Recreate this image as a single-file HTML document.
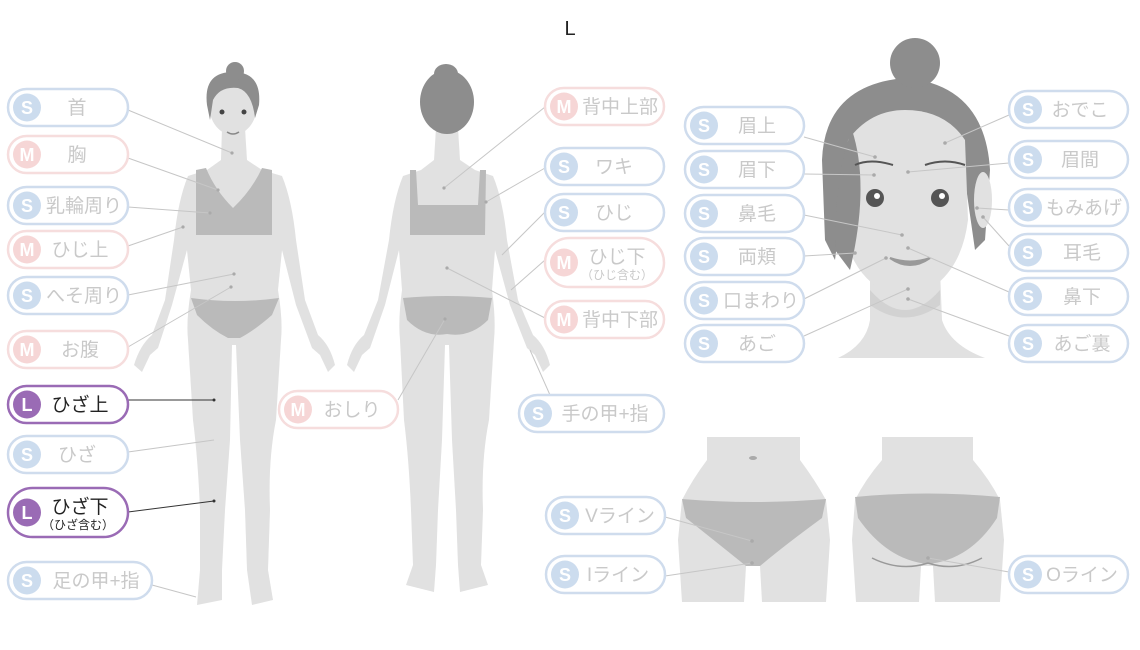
<!DOCTYPE html>
<html><head><meta charset="utf-8"><style>
html,body{margin:0;padding:0;background:#fff;}
svg{display:block;}
text{font-family:"Liberation Sans","Noto Sans CJK JP",sans-serif;}
</style></head><body>
<svg width="1140" height="650" viewBox="0 0 1140 650" xmlns="http://www.w3.org/2000/svg">
<defs>
<style>
.sk{fill:#e1e1e1}.cl{fill:#bababa}.hr{fill:#8d8d8d}
.ln{stroke:#c6c6c6;stroke-width:1;fill:none}
.lk{stroke:#333;stroke-width:1;fill:none}
.pb{fill:#fff;stroke:#cfdced;stroke-width:2.5}
.pm{fill:#fff;stroke:#f6dddd;stroke-width:2.5}
.pl{fill:#fff;stroke:#9a6bb5;stroke-width:2.5}
.cb{fill:#ccdcee}.cm{fill:#f6d6d6}.cL{fill:#9a6bb5}
.ic{fill:#fff;font-size:18px;font-weight:bold;text-anchor:middle}
.t{fill:#c9c9c9;font-size:19px;text-anchor:middle}
.tk{fill:#222;font-size:19px;text-anchor:middle}
</style>
</defs>
<text x="570" y="35" font-size="20" fill="#222" text-anchor="middle">L</text>

<!-- FRONT BODY -->
<path class="sk" d="M222 128 L245 128 L247 160 L262 170 L282 176 Q292 200 296 240 L305 300 L318 335 Q330 345 335 365 L328 372 L320 355 L312 348 L296 305 L282 250 L278 290 Q283 320 281 340 L276 420 Q268 460 270 510 L268 570 L273 600 L252 605 L247 570 L245 510 L240 440 L236 345 L232 345 L230 440 L225 510 L222 570 L222 600 L197 605 L200 570 L200 510 Q198 460 193 420 L188 340 Q186 320 191 290 L187 250 L172 305 L158 348 L150 355 L142 372 L134 365 Q140 345 152 335 L165 300 L174 240 Q178 200 188 176 L207 170 L221 160 Z"/>
<path class="cl" d="M196 170 L206 168 Q215 190 233 208 Q252 190 262 168 L272 170 L272 235 L196 235 Z"/>
<path class="cl" d="M191 298 Q235 304 279 298 L272 315 Q255 330 240 338 L228 338 Q212 330 197 315 Z"/>
<ellipse class="sk" cx="233" cy="105" rx="24" ry="30"/>
<path class="hr" d="M207 105 Q203 72 233 72 Q262 72 259 105 L255 118 Q252 92 238 88 Q220 86 213 100 L210 120 Z"/>
<circle class="hr" cx="235" cy="71" r="9"/>
<circle cx="222" cy="112" r="2.5" fill="#444"/><circle cx="244" cy="112" r="2.5" fill="#444"/>
<path d="M227 132 Q233 136 239 132" stroke="#888" stroke-width="1.5" fill="none"/>

<!-- BACK BODY -->
<path class="sk" d="M436 128 L458 128 L460 160 L475 170 L493 176 Q503 200 507 240 L518 300 L533 335 Q545 345 550 365 L543 372 L535 355 L527 348 L510 305 L495 250 L492 290 Q496 320 494 340 L489 420 Q481 460 483 510 L481 565 L488 585 L460 592 L458 565 L456 510 L452 440 L449 345 L445 345 L442 440 L438 510 L436 565 L434 592 L406 585 L413 565 L411 510 Q409 460 404 420 L400 340 Q398 320 402 290 L399 250 L385 305 L370 348 L362 355 L354 372 L347 365 Q352 345 364 335 L378 300 L389 240 Q393 200 403 176 L421 170 L434 160 Z"/>
<path class="cl" d="M410 170 L416 170 L418 205 L478 205 L480 170 L486 170 L485 235 L410 235 Z"/>
<path class="cl" d="M403 298 Q447 294 492 298 L488 320 Q470 338 447 334 Q425 338 407 320 Z"/>
<ellipse class="hr" cx="447" cy="102" rx="27" ry="32"/>
<ellipse class="hr" cx="446" cy="74" rx="12" ry="10"/>

<!-- FACE -->
<path class="sk" d="M870 270 L940 270 L942 320 Q950 345 985 358 L838 358 Q866 345 870 320 Z"/>
<path d="M870 290 Q905 330 940 290 L940 305 Q905 330 870 305 Z" fill="#d2d2d2"/>
<path class="hr" d="M822 160 Q825 85 905 78 Q985 85 990 170 L985 240 L975 250 L965 180 L845 180 L835 260 L825 240 Z"/>
<circle class="hr" cx="915" cy="63" r="25"/>
<ellipse cx="983" cy="200" rx="9" ry="28" class="sk"/>
<path class="sk" d="M848 140 Q870 110 905 110 Q945 110 965 140 L968 220 Q960 285 905 300 Q850 285 842 220 Z"/>
<path d="M852 130 Q870 185 850 270 L835 250 Q835 170 852 130 Z" class="hr"/>
<path d="M855 165 Q870 158 893 165" stroke="#555" stroke-width="2" fill="none"/>
<path d="M925 165 Q945 158 965 165" stroke="#555" stroke-width="2" fill="none"/>
<circle cx="875" cy="198" r="9" fill="#555"/><circle cx="877" cy="196" r="3" fill="#fff"/>
<circle cx="940" cy="198" r="9" fill="#555"/><circle cx="942" cy="196" r="3" fill="#fff"/>
<path d="M890 258 Q910 272 930 258 Q910 265 890 258Z" fill="#999" stroke="#999" stroke-width="2"/>

<!-- HIPS -->
<path class="sk" d="M707 437 L800 437 L800 460 Q815 480 826 500 L830 540 L826 602 L762 602 L760 566 L746 566 L744 602 L682 602 L678 540 L682 500 Q692 480 707 460 Z"/>
<path class="cl" d="M682 499 Q754 505 826 499 L822 518 Q785 545 760 566 L746 566 Q720 545 686 518 Z"/>
<ellipse cx="753" cy="458" rx="4" ry="2" fill="#aaa"/>
<path class="sk" d="M882 437 L973 437 L973 460 Q990 480 1000 500 L1004 540 L1000 602 L935 602 L933 566 L921 566 L919 602 L856 602 L852 540 L855 500 Q865 480 882 460 Z"/>
<path class="cl" d="M855 497 Q927 490 1000 497 L997 518 Q970 560 928 564 Q887 560 858 518 Z"/>
<path d="M872 558 Q900 572 928 563 M982 558 Q955 572 928 563" stroke="#999" stroke-width="1.5" fill="none"/>

<!-- CONNECTORS -->
<g class="ln">
<line x1="128" y1="110" x2="232" y2="153"/>
<line x1="128" y1="158" x2="218" y2="190"/>
<line x1="128" y1="207" x2="210" y2="213"/>
<line x1="128" y1="246" x2="183" y2="227"/>
<line x1="128" y1="295" x2="234" y2="274"/>
<line x1="128" y1="347" x2="231" y2="287"/>
<line x1="128" y1="452" x2="214" y2="440"/>
<line x1="152" y1="585" x2="196" y2="597"/>
<line x1="545" y1="107" x2="444" y2="188"/>
<line x1="545" y1="168" x2="486" y2="202"/>
<line x1="545" y1="212" x2="502" y2="255"/>
<line x1="545" y1="260" x2="511" y2="290"/>
<line x1="545" y1="318" x2="447" y2="268"/>
<line x1="398" y1="400" x2="445" y2="319"/>
<line x1="550" y1="395" x2="530" y2="350"/>
<line x1="804" y1="137" x2="875" y2="157"/>
<line x1="804" y1="174" x2="874" y2="175"/>
<line x1="804" y1="215" x2="902" y2="235"/>
<line x1="804" y1="256" x2="855" y2="253"/>
<line x1="804" y1="299" x2="886" y2="258"/>
<line x1="804" y1="336" x2="908" y2="289"/>
<line x1="1009" y1="115" x2="945" y2="143"/>
<line x1="1009" y1="163" x2="908" y2="172"/>
<line x1="1009" y1="210" x2="977" y2="208"/>
<line x1="1009" y1="246" x2="983" y2="217"/>
<line x1="1009" y1="292" x2="908" y2="248"/>
<line x1="1009" y1="336" x2="908" y2="299"/>
<line x1="665" y1="517" x2="752" y2="541"/>
<line x1="665" y1="576" x2="752" y2="563"/>
<line x1="1009" y1="572" x2="928" y2="558"/>
</g>
<g fill="#aaa">
<circle cx="232" cy="153" r="1.6"/><circle cx="218" cy="190" r="1.6"/><circle cx="210" cy="213" r="1.6"/><circle cx="183" cy="227" r="1.6"/><circle cx="234" cy="274" r="1.6"/><circle cx="231" cy="287" r="1.6"/><circle cx="444" cy="188" r="1.6"/><circle cx="486" cy="202" r="1.6"/><circle cx="447" cy="268" r="1.6"/><circle cx="445" cy="319" r="1.6"/><circle cx="875" cy="157" r="1.8"/><circle cx="874" cy="175" r="1.8"/><circle cx="902" cy="235" r="1.8"/><circle cx="855" cy="253" r="1.8"/><circle cx="886" cy="258" r="1.8"/><circle cx="908" cy="289" r="1.8"/><circle cx="945" cy="143" r="1.8"/><circle cx="908" cy="172" r="1.8"/><circle cx="977" cy="208" r="1.8"/><circle cx="983" cy="217" r="1.8"/><circle cx="908" cy="248" r="1.8"/><circle cx="908" cy="299" r="1.8"/><circle cx="752" cy="541" r="1.8"/><circle cx="752" cy="563" r="1.8"/><circle cx="928" cy="558" r="1.8"/>
</g>
<g class="lk">
<line x1="128" y1="400" x2="214" y2="400"/>
<line x1="128" y1="512" x2="214" y2="501"/>
</g>
<circle cx="214" cy="400" r="1.5" fill="#333"/><circle cx="214" cy="501" r="1.5" fill="#333"/>

<!-- PILLS -->
<g>
<rect class="pb" x="8" y="89" width="120" height="37" rx="18.5"/><circle class="cb" cx="27" cy="107.5" r="14"/><text class="ic" x="27" y="114">S</text><text class="t" x="77" y="114">首</text>
<rect class="pm" x="8" y="136" width="120" height="37" rx="18.5"/><circle class="cm" cx="27" cy="154.5" r="14"/><text class="ic" x="27" y="161">M</text><text class="t" x="77" y="161">胸</text>
<rect class="pb" x="8" y="187" width="120" height="37" rx="18.5"/><circle class="cb" cx="27" cy="205.5" r="14"/><text class="ic" x="27" y="212">S</text><text class="t" x="84" y="212">乳輪周り</text>
<rect class="pm" x="8" y="231" width="120" height="37" rx="18.5"/><circle class="cm" cx="27" cy="249.5" r="14"/><text class="ic" x="27" y="256">M</text><text class="t" x="80" y="256">ひじ上</text>
<rect class="pb" x="8" y="277" width="120" height="37" rx="18.5"/><circle class="cb" cx="27" cy="295.5" r="14"/><text class="ic" x="27" y="302">S</text><text class="t" x="84" y="302">へそ周り</text>
<rect class="pm" x="8" y="331" width="120" height="37" rx="18.5"/><circle class="cm" cx="27" cy="349.5" r="14"/><text class="ic" x="27" y="356">M</text><text class="t" x="80" y="356">お腹</text>
<rect class="pl" x="8" y="386" width="120" height="37" rx="18.5"/><circle class="cL" cx="27" cy="404.5" r="14"/><text class="ic" x="27" y="411">L</text><text class="tk" x="80" y="411">ひざ上</text>
<rect class="pb" x="8" y="436" width="120" height="37" rx="18.5"/><circle class="cb" cx="27" cy="454.5" r="14"/><text class="ic" x="27" y="461">S</text><text class="t" x="77" y="461">ひざ</text>
<rect class="pl" x="8" y="488" width="120" height="49" rx="24.5"/><circle class="cL" cx="27" cy="512.5" r="14"/><text class="ic" x="27" y="519">L</text><text class="tk" x="80" y="513">ひざ下</text><text class="tk" x="78" y="529" style="font-size:12px">（ひざ含む）</text>
<rect class="pb" x="8" y="562" width="144" height="37" rx="18.5"/><circle class="cb" cx="27" cy="580.5" r="14"/><text class="ic" x="27" y="587">S</text><text class="t" x="96" y="587">足の甲+指</text>

<rect class="pm" x="279" y="391" width="119" height="37" rx="18.5"/><circle class="cm" cx="298" cy="409.5" r="14"/><text class="ic" x="298" y="416">M</text><text class="t" x="352" y="416">おしり</text>
<rect class="pm" x="545" y="88" width="119" height="37" rx="18.5"/><circle class="cm" cx="564" cy="106.5" r="14"/><text class="ic" x="564" y="113">M</text><text class="t" x="620" y="113">背中上部</text>
<rect class="pb" x="545" y="148" width="119" height="37" rx="18.5"/><circle class="cb" cx="564" cy="166.5" r="14"/><text class="ic" x="564" y="173">S</text><text class="t" x="614" y="173">ワキ</text>
<rect class="pb" x="545" y="194" width="119" height="37" rx="18.5"/><circle class="cb" cx="564" cy="212.5" r="14"/><text class="ic" x="564" y="219">S</text><text class="t" x="614" y="219">ひじ</text>
<rect class="pm" x="545" y="238" width="119" height="49" rx="24.5"/><circle class="cm" cx="564" cy="262.5" r="14"/><text class="ic" x="564" y="269">M</text><text class="t" x="617" y="263">ひじ下</text><text class="t" x="617" y="279" style="font-size:12px">（ひじ含む）</text>
<rect class="pm" x="545" y="301" width="119" height="37" rx="18.5"/><circle class="cm" cx="564" cy="319.5" r="14"/><text class="ic" x="564" y="326">M</text><text class="t" x="620" y="326">背中下部</text>
<rect class="pb" x="519" y="395" width="145" height="37" rx="18.5"/><circle class="cb" cx="538" cy="413.5" r="14"/><text class="ic" x="538" y="420">S</text><text class="t" x="605" y="420">手の甲+指</text>

<rect class="pb" x="685" y="107" width="119" height="37" rx="18.5"/><circle class="cb" cx="704" cy="125.5" r="14"/><text class="ic" x="704" y="132">S</text><text class="t" x="757" y="132">眉上</text>
<rect class="pb" x="685" y="151" width="119" height="37" rx="18.5"/><circle class="cb" cx="704" cy="169.5" r="14"/><text class="ic" x="704" y="176">S</text><text class="t" x="757" y="176">眉下</text>
<rect class="pb" x="685" y="195" width="119" height="37" rx="18.5"/><circle class="cb" cx="704" cy="213.5" r="14"/><text class="ic" x="704" y="220">S</text><text class="t" x="757" y="220">鼻毛</text>
<rect class="pb" x="685" y="238" width="119" height="37" rx="18.5"/><circle class="cb" cx="704" cy="256.5" r="14"/><text class="ic" x="704" y="263">S</text><text class="t" x="757" y="263">両頬</text>
<rect class="pb" x="685" y="282" width="119" height="37" rx="18.5"/><circle class="cb" cx="704" cy="300.5" r="14"/><text class="ic" x="704" y="307">S</text><text class="t" x="761" y="307">口まわり</text>
<rect class="pb" x="685" y="325" width="119" height="37" rx="18.5"/><circle class="cb" cx="704" cy="343.5" r="14"/><text class="ic" x="704" y="350">S</text><text class="t" x="757" y="350">あご</text>

<rect class="pb" x="1009" y="91" width="119" height="37" rx="18.5"/><circle class="cb" cx="1028" cy="109.5" r="14"/><text class="ic" x="1028" y="116">S</text><text class="t" x="1080" y="116">おでこ</text>
<rect class="pb" x="1009" y="141" width="119" height="37" rx="18.5"/><circle class="cb" cx="1028" cy="159.5" r="14"/><text class="ic" x="1028" y="166">S</text><text class="t" x="1080" y="166">眉間</text>
<rect class="pb" x="1009" y="189" width="119" height="37" rx="18.5"/><circle class="cb" cx="1028" cy="207.5" r="14"/><text class="ic" x="1028" y="214">S</text><text class="t" x="1084" y="214">もみあげ</text>
<rect class="pb" x="1009" y="234" width="119" height="37" rx="18.5"/><circle class="cb" cx="1028" cy="252.5" r="14"/><text class="ic" x="1028" y="259">S</text><text class="t" x="1082" y="259">耳毛</text>
<rect class="pb" x="1009" y="278" width="119" height="37" rx="18.5"/><circle class="cb" cx="1028" cy="296.5" r="14"/><text class="ic" x="1028" y="303">S</text><text class="t" x="1082" y="303">鼻下</text>
<rect class="pb" x="1009" y="325" width="119" height="37" rx="18.5"/><circle class="cb" cx="1028" cy="343.5" r="14"/><text class="ic" x="1028" y="350">S</text><text class="t" x="1082" y="350">あご裏</text>

<rect class="pb" x="546" y="497" width="119" height="37" rx="18.5"/><circle class="cb" cx="565" cy="515.5" r="14"/><text class="ic" x="565" y="522">S</text><text class="t" x="620" y="522">Vライン</text>
<rect class="pb" x="546" y="556" width="119" height="37" rx="18.5"/><circle class="cb" cx="565" cy="574.5" r="14"/><text class="ic" x="565" y="581">S</text><text class="t" x="618" y="581">Iライン</text>
<rect class="pb" x="1009" y="556" width="119" height="37" rx="18.5"/><circle class="cb" cx="1028" cy="574.5" r="14"/><text class="ic" x="1028" y="581">S</text><text class="t" x="1082" y="581">Oライン</text>
</g>
</svg>
</body></html>
